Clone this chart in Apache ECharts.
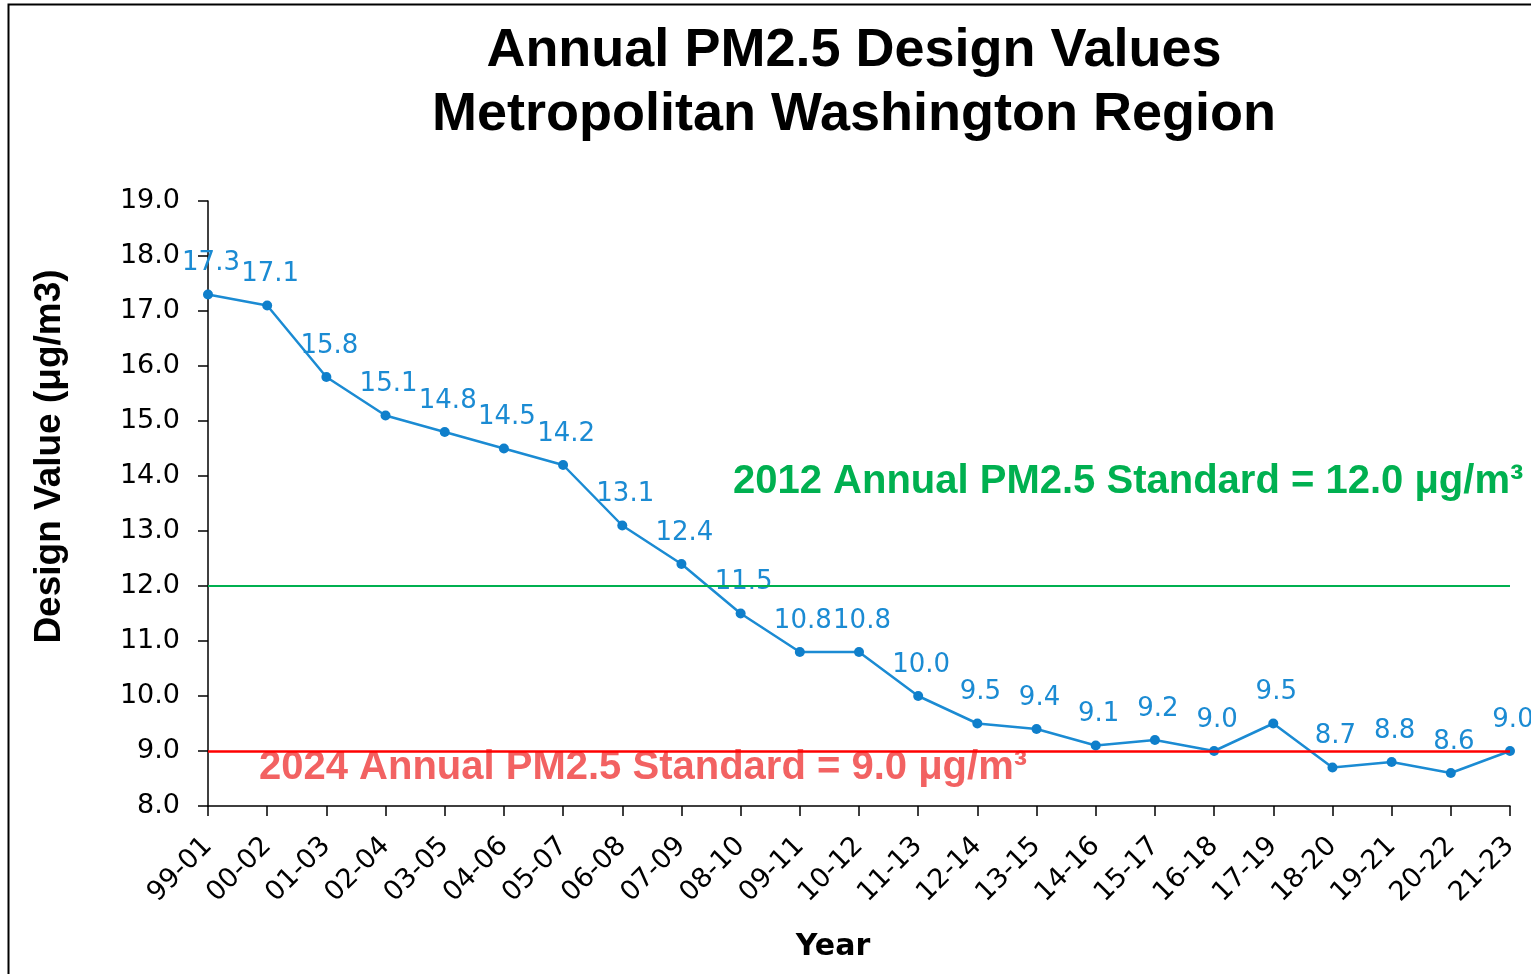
<!DOCTYPE html>
<html>
<head>
<meta charset="utf-8">
<script src="https://cdn.jsdelivr.net/npm/echarts@6/dist/echarts.min.js"></script>
<style>html,body{margin:0;padding:0;background:#fff;}#chart{width:1531px;height:974px;}</style>
</head>
<body>
<div id="chart"></div>
<script>
const periods = ['99-01','00-02','01-03','02-04','03-05','04-06','05-07','06-08','07-09','08-10','09-11','10-12','11-13','12-14','13-15','14-16','15-17','16-18','17-19','18-20','19-21','20-22','21-23'];
const designValues = [17.3,17.1,15.8,15.1,14.8,14.5,14.2,13.1,12.4,11.5,10.8,10.8,10.0,9.5,9.4,9.1,9.2,9.0,9.5,8.7,8.8,8.6,9.0];
const standard2012 = 12.0;
const standard2024 = 9.0;
const yMin = 8, yMax = 19, yStep = 1;

const chart = echarts.init(document.getElementById('chart'));
const option = {
  backgroundColor: '#fff',
  animation: false,
  title: {
    text: 'Annual PM2.5 Design Values\nMetropolitan Washington Region',
    left: 849, top: 14, textAlign: 'center',
    textStyle: { fontFamily: 'Liberation Sans', fontWeight: 'bold', fontSize: 54, lineHeight: 64, color: '#000' }
  },
  grid: { left: 208, right: 21, top: 201, bottom: 168 },
  xAxis: {
    type: 'category', data: periods, boundaryGap: false,
    name: 'Year', nameLocation: 'middle', nameGap: 126,
    nameTextStyle: { fontFamily: 'DejaVu Sans', fontWeight: 'bold', fontSize: 30, color: '#000', padding: [0, 52, 0, 0] },
    axisLine: { lineStyle: { color: '#000', width: 1.5 } },
    axisTick: { show: true, length: 10, lineStyle: { color: '#000', width: 1.5 } },
    axisLabel: { rotate: 45, margin: 36, fontFamily: 'DejaVu Sans', fontSize: 27, color: '#000', interval: 0 },
    splitLine: { show: false }
  },
  yAxis: {
    type: 'value', min: yMin, max: yMax, interval: yStep,
    name: 'Design Value (μg/m3)', nameLocation: 'middle', nameGap: 140, nameRotate: 90,
    nameTextStyle: { fontFamily: 'Liberation Sans', fontWeight: 'bold', fontSize: 37, color: '#000', padding: [0, 0, 0, 94] },
    axisLine: { show: true, lineStyle: { color: '#000', width: 1.5 } },
    axisTick: { show: true, length: 10, lineStyle: { color: '#000', width: 1.5 } },
    axisLabel: { margin: 28, fontFamily: 'DejaVu Sans', fontSize: 27, color: '#000', formatter: v => v.toFixed(1) },
    splitLine: { show: false }
  },
  series: [{
    type: 'line', data: designValues,
    symbol: 'circle', symbolSize: 10,
    lineStyle: { color: '#1b8bd3', width: 2.5 },
    itemStyle: { color: '#0f7fcb' },
    label: { show: true, position: 'top', distance: 13, offset: [3, 0], fontFamily: 'DejaVu Sans', fontSize: 26, color: '#1b8bd3', formatter: p => p.value.toFixed(1) },
    markLine: {
      silent: true, symbol: 'none', label: { show: false },
      data: [
        { yAxis: standard2012, lineStyle: { color: '#00b050', width: 2, type: 'solid' } },
        { yAxis: standard2024, lineStyle: { color: '#ff0000', width: 2.5, type: 'solid' } }
      ]
    },
    z: 3
  }],
  graphic: [
    { type: 'rect', shape: { x: 8.5, y: 4.5, width: 1540, height: 1000 }, style: { fill: 'none', stroke: '#000', lineWidth: 2 }, silent: true },
    { type: 'text', left: 733, top: 462, style: { text: '2012 Annual PM2.5 Standard = 12.0 μg/m³', fontFamily: 'Liberation Sans', fontWeight: 'bold', fontSize: 40, fill: '#00b050' } },
    { type: 'text', left: 259, top: 748, style: { text: '2024 Annual PM2.5 Standard = 9.0 μg/m³', fontFamily: 'Liberation Sans', fontWeight: 'bold', fontSize: 40, fill: '#f26262' } }
  ]
};
chart.setOption(option);
</script>
</body>
</html>
